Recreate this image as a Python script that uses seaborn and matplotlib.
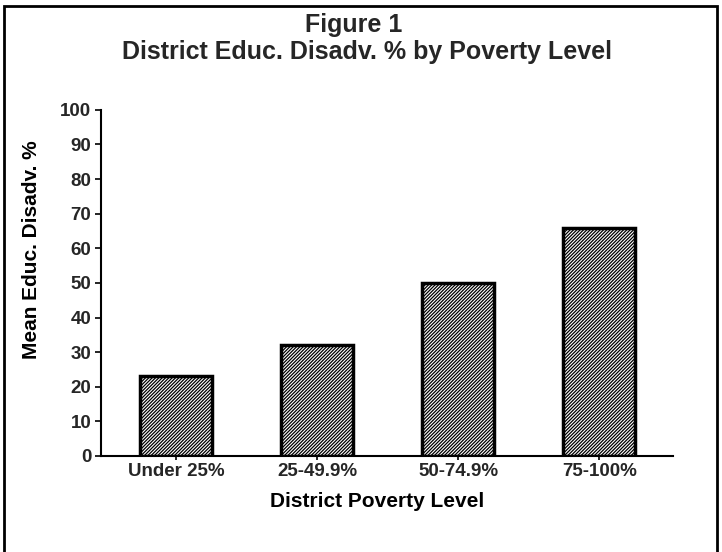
import matplotlib
matplotlib.use("Agg")
import matplotlib.pyplot as plt
import seaborn as sns
import pandas as pd
from matplotlib.patches import Rectangle

categories = ["Under 25%", "25-49.9%", "50-74.9%", "75-100%"]
values = [23, 32, 50, 66]
yticks = [0, 10, 20, 30, 40, 50, 60, 70, 80, 90, 100]

sns.set_theme(style="white")
plt.rcParams['font.family'] = ['Liberation Sans', 'DejaVu Sans']
plt.rcParams['hatch.linewidth'] = 0.9
plt.rcParams['hatch.color'] = 'black'

df = pd.DataFrame({"level": categories, "pct": values})

fig = plt.figure(figsize=(7.22, 5.52), dpi=100)
ax = fig.add_axes([0.140, 0.174, 0.792, 0.627])

sns.barplot(data=df, x="level", y="pct", ax=ax, color="white", width=0.51,
            edgecolor="black", linewidth=2.5, saturation=1)
for p in ax.patches:
    p.set_hatch("/" * 10)
    p.set_facecolor("white")
    p.set_edgecolor("black")

ax.set_ylim(0, 100)
ax.set_xlim(-0.53, 3.52)
ax.set_yticks(yticks)
ax.set_yticklabels([str(t) for t in yticks], fontsize=13.5, fontweight="bold")
ax.set_xticks(range(len(categories)))
ax.set_xticklabels(categories, fontsize=13.5, fontweight="bold")
ax.tick_params(axis="y", direction="out", length=4, width=1.2, color="black", pad=3, left=True)
ax.tick_params(axis="x", direction="out", length=3, width=1.2, color="black", pad=2, bottom=True)
for s in ["top", "right"]:
    ax.spines[s].set_visible(False)
for s in ["left", "bottom"]:
    ax.spines[s].set_color("black")
    ax.spines[s].set_linewidth(1.5)

ax.set_xlabel("District Poverty Level", fontsize=15, fontweight="bold", color="black")
ax.xaxis.set_label_coords(0.483, -0.104)
ax.set_ylabel("Mean Educ. Disadv. %", fontsize=15, fontweight="bold", color="black")
ax.yaxis.set_label_coords(-0.105, 0.595)

fig.text(0.49, 0.955, "Figure 1", ha="center", va="center", fontsize=18, fontweight="bold")
fig.text(0.508, 0.906, "District Educ. Disadv. % by Poverty Level", ha="center", va="center",
         fontsize=18, fontweight="bold")

fig.patches.append(Rectangle((0.005, -0.01), 0.988, 1.0, transform=fig.transFigure,
                             fill=False, edgecolor="black", linewidth=2.0))

fig.savefig("out.png", dpi=100)
